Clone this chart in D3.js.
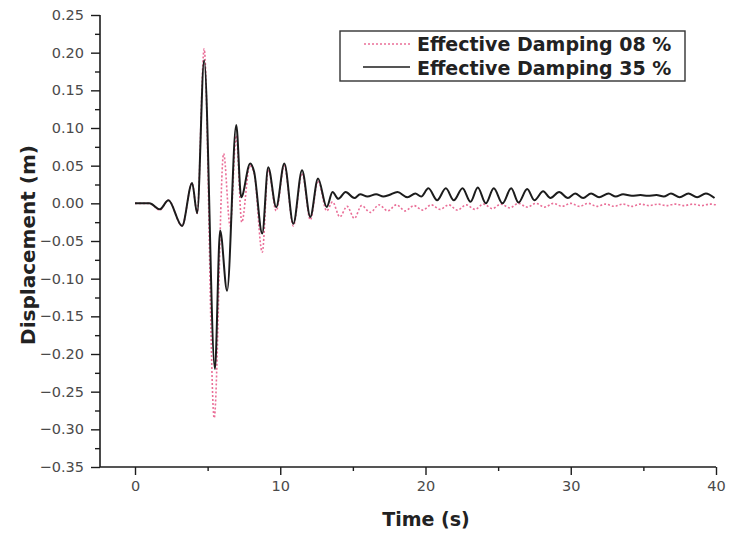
<!DOCTYPE html>
<html>
<head>
<meta charset="utf-8">
<script src="https://cdn.jsdelivr.net/npm/d3@7"></script>
<style>
  body { margin: 0; background: #ffffff; }
</style>
</head>
<body>
<div id="chart"></div>
<script>
// time (s) and displacement (m), peaks and troughs
var time35 = [0, 1.0, 1.7, 2.3, 3.24, 3.93, 4.28, 4.76, 5.5, 5.86, 6.34, 6.97, 7.31, 7.93, 8.2, 8.76,
  9.17, 9.72, 10.28, 10.9, 11.5, 12.07, 12.6, 13.2, 13.6, 14.0, 14.5, 15.1, 15.5, 16.0, 16.6, 17.1,
  17.5, 18.07, 18.76, 19.3, 19.7, 20.2, 20.8, 21.4, 21.95, 22.55, 23.1, 23.6, 24.15, 24.7, 25.3, 25.9,
  26.4, 27.0, 27.5, 28.1, 28.6, 29.2, 29.8, 30.3, 30.85, 31.4, 31.95, 32.6, 33.1, 33.6, 34.2, 34.8,
  35.3, 35.9, 36.4, 36.9, 37.5, 38.1, 38.7, 39.3, 39.9];
var disp35 = [0, 0, -0.008, 0.004, -0.03, 0.027, -0.013, 0.19, -0.22, -0.036, -0.116, 0.104, 0.008, 0.053, 0.042, -0.04,
  0.048, -0.005, 0.053, -0.027, 0.044, -0.018, 0.033, -0.005, 0.015, 0.006, 0.015, 0.007, 0.012, 0.009, 0.012, 0.009,
  0.011, 0.015, 0.008, 0.013, 0.009, 0.02, 0.004, 0.02, 0.004, 0.02, 0.002, 0.021, 0, 0.02, 0, 0.02,
  0.001, 0.019, 0.004, 0.016, 0.007, 0.015, 0.007, 0.013, 0.007, 0.013, 0.008, 0.013, 0.009, 0.012, 0.01, 0.011,
  0.01, 0.011, 0.009, 0.013, 0.008, 0.013, 0.008, 0.013, 0.007];

var time08 = [0, 1.0, 1.7, 2.3, 3.24, 3.93, 4.28, 4.76, 5.45, 6.1, 6.55, 6.97, 7.35, 7.9, 8.2, 8.76,
  9.17, 9.72, 10.28, 10.9, 11.5, 12.07, 12.6, 13.2, 13.6, 14.1, 14.6, 15.1, 15.6, 16.2, 16.8, 17.4,
  18.0, 18.6, 19.2, 19.8, 20.4, 21.0, 21.6, 22.2, 22.8, 23.4, 24.0, 24.6, 25.2, 25.8, 26.4, 27.0,
  27.6, 28.2, 28.8, 29.4, 30.0, 30.6, 31.2, 31.8, 32.4, 33.0, 33.6, 34.2, 34.8, 35.4, 36.0, 36.6,
  37.2, 37.8, 38.4, 39.0, 39.6, 40];
var disp08 = [0, 0, -0.009, 0.004, -0.03, 0.027, -0.013, 0.205, -0.285, 0.066, -0.03, 0.09, -0.025, 0.05, 0.04, -0.065,
  0.045, -0.01, 0.05, -0.03, 0.04, -0.022, 0.03, -0.01, 0.002, -0.018, -0.004, -0.02, -0.003, -0.012, -0.002, -0.01,
  -0.002, -0.01, -0.003, -0.009, -0.002, -0.008, -0.002, -0.009, -0.002, -0.008, -0.001, -0.007, -0.001, -0.006, 0, -0.005,
  0, -0.005, 0, -0.004, 0, -0.004, 0, -0.004, -0.001, -0.004, -0.001, -0.004, -0.001, -0.003, -0.001, -0.003,
  -0.001, -0.003, -0.001, -0.003, -0.001, -0.002];

var seriesNames = ["Effective Damping 08 %", "Effective Damping 35 %"];
var xTicks = [0, 10, 20, 30, 40];
var xMinor = [5, 15, 25, 35];
var yTicks = [0.25, 0.20, 0.15, 0.10, 0.05, 0.00, -0.05, -0.10, -0.15, -0.20, -0.25, -0.30, -0.35];
var yMinor = [0.225, 0.175, 0.125, 0.075, 0.025, -0.025, -0.075, -0.125, -0.175, -0.225, -0.275, -0.325];

//constants
var width = 730;
var height = 534;
var plotLeft = 100, plotRight = 716, plotTop = 15, plotBottom = 467;
var color_pink = "#ea6f98";
var color_line = "#1c1c1c";
var color_tick = "#4a4a4a";
var font = "'DejaVu Sans', Verdana, sans-serif";

var svg = d3.select("#chart")
  .append("svg")
  .attr("width", width)
  .attr("height", height);

var x = d3.scaleLinear().domain([-2.41, 40]).range([plotLeft, plotRight]);
var y = d3.scaleLinear().domain([-0.35, 0.25]).range([plotBottom, plotTop]);

//curves
var line = d3.line()
  .x(function(d) { return x(d[0]); })
  .y(function(d) { return y(d[1]); })
  .curve(d3.curveMonotoneX);

var pink = d3.zip(time08, disp08);
var black = d3.zip(time35, disp35);

svg.append("path")
  .datum(pink)
  .attr("d", line)
  .style("fill", "none")
  .style("stroke", color_pink)
  .style("stroke-width", 1.6)
  .style("stroke-dasharray", "2,2");

svg.append("path")
  .datum(black)
  .attr("d", line)
  .style("fill", "none")
  .style("stroke", color_line)
  .style("stroke-width", 2);

//y axis
var yAxis = svg.append("g")
  .attr("transform", "translate(" + plotLeft + ",0)")
  .call(d3.axisLeft(y).tickValues(yTicks).tickSize(9).tickPadding(7).tickFormat(d3.format(".2f")));

var yMinorAxis = svg.append("g")
  .attr("transform", "translate(" + plotLeft + ",0)")
  .call(d3.axisLeft(y).tickValues(yMinor).tickSize(5).tickFormat(""));

//x axis
var xAxis = svg.append("g")
  .attr("transform", "translate(0," + plotBottom + ")")
  .call(d3.axisBottom(x).tickValues(xTicks).tickSize(8).tickPadding(6).tickFormat(d3.format("d")));

var xMinorAxis = svg.append("g")
  .attr("transform", "translate(0," + plotBottom + ")")
  .call(d3.axisBottom(x).tickValues(xMinor).tickSize(4).tickFormat(""));

svg.selectAll(".domain").remove();

svg.append("line")
  .attr("x1", plotLeft).attr("x2", plotLeft)
  .attr("y1", plotTop).attr("y2", plotBottom)
  .style("stroke", color_line).style("stroke-width", 1.6);

svg.append("line")
  .attr("x1", plotLeft).attr("x2", plotRight)
  .attr("y1", plotBottom).attr("y2", plotBottom)
  .style("stroke", color_line).style("stroke-width", 1.6);

svg.selectAll(".tick line")
  .style("stroke", color_line)
  .style("stroke-width", 1.4);

svg.selectAll(".tick text")
  .style("font-family", font)
  .style("font-size", "14.5px")
  .style("fill", color_tick);

//titles
svg.append("text")
  .attr("x", 426)
  .attr("y", 526)
  .attr("text-anchor", "middle")
  .style("font-family", font)
  .style("font-weight", "bold")
  .style("font-size", "19px")
  .style("fill", "#222")
  .text("Time (s)");

svg.append("text")
  .attr("transform", "translate(35,245) rotate(-90)")
  .attr("text-anchor", "middle")
  .style("font-family", font)
  .style("font-weight", "bold")
  .style("font-size", "20px")
  .style("fill", "#222")
  .text("Displacement (m)");

//legend
var key = svg.append("g");

key.append("rect")
  .attr("x", 340)
  .attr("y", 31)
  .attr("width", 345)
  .attr("height", 50)
  .style("fill", "#ffffff")
  .style("stroke", "#333")
  .style("stroke-width", 1.4);

key.append("line")
  .attr("x1", 364).attr("x2", 410)
  .attr("y1", 44).attr("y2", 44)
  .style("stroke", color_pink)
  .style("stroke-width", 1.6)
  .style("stroke-dasharray", "2,2");

key.append("line")
  .attr("x1", 363).attr("x2", 410)
  .attr("y1", 67).attr("y2", 67)
  .style("stroke", color_line)
  .style("stroke-width", 1.6);

key.selectAll("text.key")
  .data(seriesNames)
  .enter()
  .append("text")
  .attr("class", "key")
  .attr("x", 417)
  .attr("y", function(d, i) { return 51 + i * 24; })
  .style("font-family", font)
  .style("font-weight", "bold")
  .style("font-size", "19px")
  .style("fill", "#222")
  .text(function(d) { return d; });
</script>
</body>
</html>
